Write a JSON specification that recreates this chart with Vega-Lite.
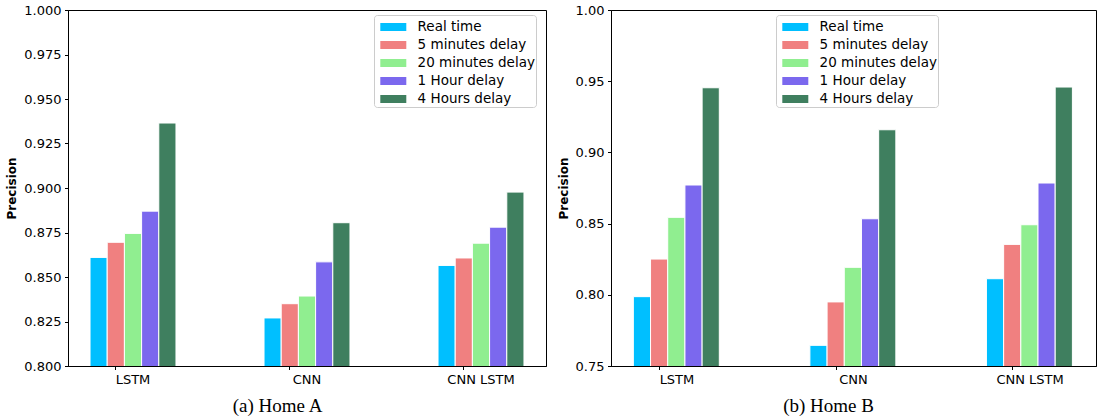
{
  "$schema": "https://vega.github.io/schema/vega-lite/v6.json",
  "padding": {"left": 5, "top": 3, "right": 5, "bottom": 0},
  "config": {
    "font": "DejaVu Sans",
    "view": {"stroke": "black", "strokeWidth": 1},
    "axis": {
      "domainColor": "black",
      "tickColor": "black",
      "tickSize": 3.5,
      "labelPadding": 3.5,
      "labelFont": "DejaVu Sans",
      "labelFontSize": 13,
      "labelColor": "black",
      "grid": false,
      "zindex": 1
    },
    "legend": {
      "labelFont": "DejaVu Sans",
      "labelFontSize": 13.5,
      "labelColor": "black",
      "symbolType": "M-1.215,-0.374H1.215V0.374H-1.215Z",
      "symbolSize": 458,
      "symbolStrokeWidth": 0,
      "symbolOffset": 7.3,
      "labelOffset": 13.3,
      "padding": 1,
      "rowPadding": 0,
      "fillColor": "white",
      "strokeColor": "#cccccc",
      "cornerRadius": 3
    }
  },
  "data": {
    "values": [
      {"home": "A", "model": "LSTM", "delay": "Real time", "precision": 0.861},
      {"home": "A", "model": "LSTM", "delay": "5 minutes delay", "precision": 0.8695},
      {"home": "A", "model": "LSTM", "delay": "20 minutes delay", "precision": 0.8745},
      {"home": "A", "model": "LSTM", "delay": "1 Hour delay", "precision": 0.887},
      {"home": "A", "model": "LSTM", "delay": "4 Hours delay", "precision": 0.9365},
      {"home": "A", "model": "CNN", "delay": "Real time", "precision": 0.827},
      {"home": "A", "model": "CNN", "delay": "5 minutes delay", "precision": 0.835},
      {"home": "A", "model": "CNN", "delay": "20 minutes delay", "precision": 0.8393},
      {"home": "A", "model": "CNN", "delay": "1 Hour delay", "precision": 0.8585},
      {"home": "A", "model": "CNN", "delay": "4 Hours delay", "precision": 0.8805},
      {"home": "A", "model": "CNN LSTM", "delay": "Real time", "precision": 0.8565},
      {"home": "A", "model": "CNN LSTM", "delay": "5 minutes delay", "precision": 0.8607},
      {"home": "A", "model": "CNN LSTM", "delay": "20 minutes delay", "precision": 0.869},
      {"home": "A", "model": "CNN LSTM", "delay": "1 Hour delay", "precision": 0.878},
      {"home": "A", "model": "CNN LSTM", "delay": "4 Hours delay", "precision": 0.8977},
      {"home": "B", "model": "LSTM", "delay": "Real time", "precision": 0.7987},
      {"home": "B", "model": "LSTM", "delay": "5 minutes delay", "precision": 0.8251},
      {"home": "B", "model": "LSTM", "delay": "20 minutes delay", "precision": 0.8544},
      {"home": "B", "model": "LSTM", "delay": "1 Hour delay", "precision": 0.8771},
      {"home": "B", "model": "LSTM", "delay": "4 Hours delay", "precision": 0.9454},
      {"home": "B", "model": "CNN", "delay": "Real time", "precision": 0.7645},
      {"home": "B", "model": "CNN", "delay": "5 minutes delay", "precision": 0.795},
      {"home": "B", "model": "CNN", "delay": "20 minutes delay", "precision": 0.8193},
      {"home": "B", "model": "CNN", "delay": "1 Hour delay", "precision": 0.8534},
      {"home": "B", "model": "CNN", "delay": "4 Hours delay", "precision": 0.9159},
      {"home": "B", "model": "CNN LSTM", "delay": "Real time", "precision": 0.8113},
      {"home": "B", "model": "CNN LSTM", "delay": "5 minutes delay", "precision": 0.8354},
      {"home": "B", "model": "CNN LSTM", "delay": "20 minutes delay", "precision": 0.8492},
      {"home": "B", "model": "CNN LSTM", "delay": "1 Hour delay", "precision": 0.8785},
      {"home": "B", "model": "CNN LSTM", "delay": "4 Hours delay", "precision": 0.9459}
    ]
  },
  "resolve": {"scale": {"color": "shared"}, "legend": {"color": "independent"}},
  "spacing": 9,
  "hconcat": [
    {
      "width": 478,
      "height": 356,
      "transform": [{"filter": "datum.home === 'A'"}],
      "mark": {"type": "bar", "stroke": "white", "strokeWidth": 1, "clip": true},
      "encoding": {
        "x": {
          "field": "model", "type": "nominal", "sort": ["LSTM", "CNN", "CNN LSTM"],
          "scale": {"paddingInner": 0.506, "paddingOuter": 0.1266},
          "axis": {"title": "(a) Home A", "labelAngle": 0, "bandPosition": 0.3,
                   "titleFont": "Liberation Serif", "titleFontSize": 19, "titleFontWeight": "normal",
                   "titleColor": "black", "titleX": 209, "titleY": 45, "titleBaseline": "alphabetic", "titleAlign": "center"}
        },
        "xOffset": {"field": "delay", "type": "nominal",
          "sort": ["Real time", "5 minutes delay", "20 minutes delay", "1 Hour delay", "4 Hours delay"],
          "scale": {"paddingInner": 0, "paddingOuter": 0}},
        "y": {
          "field": "precision", "type": "quantitative",
          "scale": {"domain": [0.8, 1.0], "zero": false, "nice": false},
          "axis": {"title": "Precision", "values": [0.8, 0.825, 0.85, 0.875, 0.9, 0.925, 0.95, 0.975, 1.0],
                   "format": ".3f", "titleFont": "DejaVu Sans", "titleFontSize": 12, "titleFontWeight": "bold",
                   "titleColor": "black", "titlePadding": 5}
        },
        "color": {
          "field": "delay", "type": "nominal",
          "scale": {"domain": ["Real time", "5 minutes delay", "20 minutes delay", "1 Hour delay", "4 Hours delay"],
                    "range": ["#00bfff", "#f08080", "#90ee90", "#7b68ee", "#3f7f5f"]},
          "legend": {"title": null, "orient": "none", "legendX": 306, "legendY": 5}
        }
      }
    },
    {
      "width": 485,
      "height": 356,
      "transform": [{"filter": "datum.home === 'B'"}],
      "mark": {"type": "bar", "stroke": "white", "strokeWidth": 1, "clip": true},
      "encoding": {
        "x": {
          "field": "model", "type": "nominal", "sort": ["LSTM", "CNN", "CNN LSTM"],
          "scale": {"paddingInner": 0.506, "paddingOuter": 0.1266},
          "axis": {"title": "(b) Home B", "labelAngle": 0, "bandPosition": 0.3,
                   "titleFont": "Liberation Serif", "titleFontSize": 19, "titleFontWeight": "normal",
                   "titleColor": "black", "titleX": 217, "titleY": 45, "titleBaseline": "alphabetic", "titleAlign": "center"}
        },
        "xOffset": {"field": "delay", "type": "nominal",
          "sort": ["Real time", "5 minutes delay", "20 minutes delay", "1 Hour delay", "4 Hours delay"],
          "scale": {"paddingInner": 0, "paddingOuter": 0}},
        "y": {
          "field": "precision", "type": "quantitative",
          "scale": {"domain": [0.75, 1.0], "zero": false, "nice": false},
          "axis": {"title": "Precision", "values": [0.75, 0.8, 0.85, 0.9, 0.95, 1.0],
                   "format": ".2f", "titleFont": "DejaVu Sans", "titleFontSize": 12, "titleFontWeight": "bold",
                   "titleColor": "black", "titlePadding": 5}
        },
        "color": {
          "field": "delay", "type": "nominal",
          "scale": {"domain": ["Real time", "5 minutes delay", "20 minutes delay", "1 Hour delay", "4 Hours delay"],
                    "range": ["#00bfff", "#f08080", "#90ee90", "#7b68ee", "#3f7f5f"]},
          "legend": {"title": null, "orient": "none", "legendX": 165, "legendY": 5}
        }
      }
    }
  ]
}
